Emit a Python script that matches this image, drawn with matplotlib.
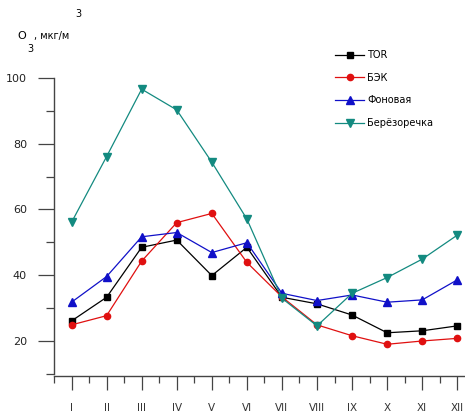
import matplotlib.pyplot as plt
from matplotlib.ticker import FixedLocator

months = ['I', 'II', 'III', 'IV', 'V', 'VI', 'VII', 'VIII', 'IX', 'X', 'XI', 'XII']
tor = [26.1, 33.3, 48.5, 50.7, 39.9, 48.5, 33.3, 31.3, 27.9, 22.5, 23.1, 24.6]
bek = [24.9, 27.7, 44.3, 56.0, 58.8, 43.9, 33.4, 24.9, 21.6, 19.0, 20.0, 20.8]
fon = [31.8, 39.6, 51.7, 53.0, 46.9, 49.9, 34.5, 32.3, 34.0, 31.8, 32.5, 38.6]
ber = [56.1, 76.1, 96.6, 90.3, 74.4, 57.1, 33.0, 24.6, 34.5, 39.3, 44.9, 52.2]

W, H = 465, 412
fig = plt.figure(figsize=(W / 100, H / 100), dpi=100)
ax = fig.add_axes([54 / W, (H - 376) / H, 1 - 54 / W, (376 - 78) / H])

x = list(range(1, 13))
ax.plot(x, tor, '-s', color='black', lw=0.9, ms=4.5, label='TOR')
ax.plot(x, bek, '-o', color='#e01010', lw=0.9, ms=4.5, label='БЭК')
ax.plot(x, fon, '-^', color='#1010c8', lw=0.9, ms=6, label='Фоновая')
ax.plot(x, ber, '-v', color='#138a80', lw=0.9, ms=6, label='Берёзоречка')

ax.set_xlim(0.5, 12.22)
ax.set_ylim(9.35, 100)
ax.spines['top'].set_visible(False)
ax.spines['right'].set_visible(False)
ax.spines['left'].set_bounds(10, 100)
for s in ('left', 'bottom'):
    ax.spines[s].set_color('#444444')
    ax.spines[s].set_linewidth(1.0)

ax.set_xticks(x)
ax.set_xticklabels(months)
ax.xaxis.set_minor_locator(FixedLocator([i + 0.5 for i in range(0, 12)]))
ax.yaxis.set_major_locator(FixedLocator([20, 40, 60, 80, 100]))
ax.yaxis.set_minor_locator(FixedLocator([10, 30, 50, 70, 90]))
ax.tick_params(axis='x', which='major', length=10, width=0.9, color='#444444',
               pad=9.5, labelsize=7.5, labelcolor='#333333')
ax.tick_params(axis='x', which='minor', length=5, width=0.9, color='#444444')
ax.tick_params(axis='y', which='major', length=11.5, width=0.9, color='#444444',
               pad=8, labelsize=8, labelcolor='#222222')
ax.tick_params(axis='y', which='minor', length=5.5, width=0.9, color='#444444')

leg = ax.legend(loc='upper left', bbox_to_anchor=(335 / W, 1 - 50 / H),
                bbox_transform=fig.transFigure, frameon=False, fontsize=7,
                handlelength=3.0, labelspacing=1.3, handletextpad=0.3,
                borderaxespad=0, borderpad=0)

def px(xp, yp):
    return xp / W, 1 - yp / H

fig.text(*px(17, 36), 'O', fontsize=8, va='center', ha='left')
fig.text(*px(27, 49), '3', fontsize=7, va='center', ha='left')
fig.text(*px(34, 36), ', мкг/м', fontsize=7, va='center', ha='left')
fig.text(*px(75, 14), '3', fontsize=7, va='center', ha='left')

fig.savefig('out.png', dpi=100)
